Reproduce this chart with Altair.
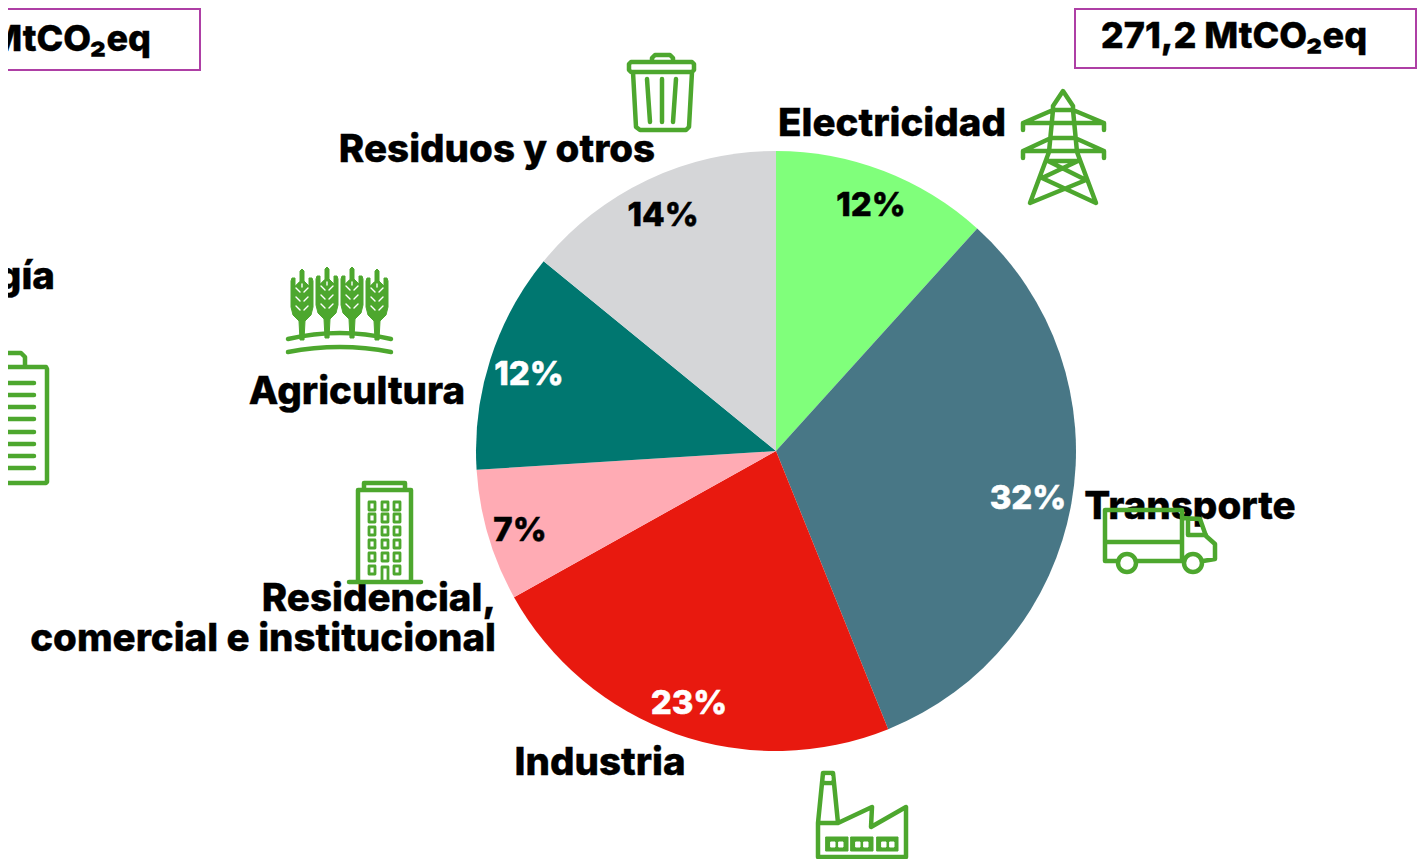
import altair as alt
import pandas as pd

# ---- pie data ----
SECTORS = ["Electricidad", "Transporte", "Industria", "Residencial, comercial e institucional", "Agricultura", "Residuos y otros"]
SHARES = [11.7, 32.2, 23.0, 7.1, 11.9, 14.1]
PIE_COLORS = ["#80FF7B", "#487786", "#E8190F", "#FFABB4", "#007770", "#D5D6D8"]

PCT_TEXT = ["12%", "32%", "23%", "7%", "12%", "14%"]
PCT_COLOR = ["#000000", "#FFFFFF", "#FFFFFF", "#000000", "#FFFFFF", "#000000"]
PCT_X = [871, 1028, 689, 520, 529, 663]
PCT_Y = [216, 509, 714, 541, 385, 226]

LABEL_TEXT = ["Residuos y otros", "Electricidad", "Agricultura", "Residencial,", "comercial e institucional", "Industria", "Transporte", "gía"]
LABEL_X = [497, 892, 357, 496, 496, 600, 1190, 55]
LABEL_Y = [162, 136, 404, 611, 651, 775, 519, 289]
LABEL_ALIGN = ["center", "center", "center", "right", "right", "center", "center", "right"]

BOX_TEXT = ["271,2 MtCO₂eq", "MtCO₂eq"]
BOX_TEXT_X = [1234, 151]
BOX_TEXT_Y = [48, 51]
BOX_TEXT_ALIGN = ["center", "right"]
BOX_L = [1075, -5]
BOX_R = [1416, 200]
BOX_T = [9, 9]
BOX_B = [68, 70]

GREEN = "#4DA72E"
PURPLE = "#AE3FA5"
OFF = 8  # page margin


def poly(pts, close=False):
    s = "M" + " L".join(f"{x},{y}" for x, y in pts)
    return s + (" Z" if close else "")


def rect(x0, y0, x1, y1):
    return poly([(x0, y0), (x1, y0), (x1, y1), (x0, y1)], True)


def circle(cx, cy, r):
    return f"M{cx - r},{cy} A{r},{r} 0 1 1 {cx + r},{cy} A{r},{r} 0 1 1 {cx - r},{cy} Z"


def shift(path, cx, cy):
    """Rewrite an icon path given in picture pixels so it is local to (cx, cy)."""
    out, tok = [], path.replace("M", "M ").replace("L", "L ").replace("A", "A ").replace("Q", "Q ").split()
    cmd = None
    for t in tok:
        if t in "MLAQZ":
            cmd = t
            out.append(t)
            n = 0
            continue
        if cmd == "A" and "," not in t:
            out.append(t)
            continue
        a, b = t.split(",")
        if cmd == "A" and n == 0:
            out.append(t)
        else:
            out.append(f"{float(a) - cx:.1f},{float(b) - cy:.1f}")
        n += 1
    return " ".join(out)


truck = " ".join([
    poly([(1117, 561), (1105, 561), (1105, 510), (1182, 510), (1182, 561), (1137, 561)]),
    poly([(1105, 542), (1182, 542)]),
    poly([(1182, 518), (1200, 519), (1206, 536), (1215, 544), (1215, 559), (1203, 561)]),
    poly([(1188, 521), (1188, 535), (1206, 535)]),
    circle(1127, 563, 9), circle(1193, 563, 9),
])
tower = " ".join([
    poly([(1053, 110), (1053, 106), (1063, 91), (1073, 106), (1073, 110)]),
    poly([(1053, 110), (1073, 110)]),
    poly([(1023, 130), (1023, 123), (1053, 110), (1049, 152), (1030, 203), (1086, 180), (1048, 161)]),
    poly([(1104, 130), (1104, 123), (1073, 110), (1077, 152), (1096, 203), (1042, 178), (1078, 161)]),
    poly([(1023, 123), (1104, 123)]),
    poly([(1051, 138), (1075, 138)]),
    poly([(1023, 158), (1023, 151), (1051, 138)]),
    poly([(1104, 158), (1104, 151), (1075, 138)]),
    poly([(1023, 151), (1104, 151)]),
    poly([(1048, 161), (1078, 161)]),
])
trash = " ".join([
    poly([(652, 61), (652, 58), (655, 55), (670, 55), (673, 58), (673, 61)]),
    poly([(631, 62), (692, 62), (694, 64), (694, 70), (692, 72), (631, 72), (629, 70), (629, 64)], True),
    poly([(633, 72), (636, 127), (640, 130), (686, 130), (689, 127), (692, 72)]),
    poly([(647, 79), (650, 122)]), poly([(662, 79), (662, 122)]), poly([(676, 79), (673, 122)]),
])
building_frame = " ".join([
    rect(364, 483, 405, 490),
    poly([(358, 582), (358, 490), (411, 490), (411, 582)]),
    poly([(349, 582), (421, 582)]),
])
building_windows = " ".join(
    [rect(x - 3, y - 4, x + 3, y + 4) for x in (372, 385, 397) for y in (506, 518, 531, 544, 557)]
    + [rect(369, 566, 375, 574), rect(394, 566, 400, 574), poly([(382, 582), (382, 567), (388, 567), (388, 582)])]
)
factory_frame = " ".join([
    poly([(818, 857), (818, 823), (823, 773), (833, 773), (838, 823), (872, 807), (871, 827), (906, 807), (906, 857), (818, 857)]),
    poly([(818, 823), (838, 823)]),
    poly([(822, 783), (834, 783)]),
])
factory_fill = " ".join([rect(826, 837, 848, 851), rect(851, 837, 873, 851), rect(877, 837, 898, 851)])
factory_holes = " ".join(
    [rect(x, 842, x + 4, 847) for x in (831, 839, 856, 864, 882, 890)] + [rect(826, 776, 831, 780)]
)
clip = " ".join([
    poly([(-10, 367), (46, 367), (47, 369), (47, 482), (46, 483), (-10, 483)]),
    poly([(2, 366), (2, 357), (5, 353), (21, 353), (25, 357), (25, 366)]),
])
clip_lines = " ".join(poly([(-10, y), (34, y)]) for y in (383, 395, 407, 419, 432, 444, 456, 468))


def ear(cx, top):
    return poly([
        (cx - 2, top + 12), (cx - 2, top + 2), (cx, top), (cx + 2, top + 2), (cx + 2, top + 12),
        (cx + 7, top + 17), (cx + 7, top + 9), (cx + 10, top + 9), (cx + 11, top + 12), (cx + 11, top + 38),
        (cx + 9, top + 46), (cx + 3, top + 52), (cx + 2, top + 71), (cx - 2, top + 71), (cx - 3, top + 52),
        (cx - 9, top + 46), (cx - 11, top + 38), (cx - 11, top + 12), (cx - 10, top + 9), (cx - 7, top + 9), (cx - 7, top + 17),
    ], True)


def ear_marks(cx, top):
    marks = []
    for d in (22, 31, 40):
        marks.append(poly([(cx - 6, top + d - 3), (cx - 2, top + d + 1)]))
        marks.append(poly([(cx + 6, top + d - 3), (cx + 2, top + d + 1)]))
    marks.append(poly([(cx, top + 15), (cx, top + 18)]))
    return " ".join(marks)


EARS = [(302, 269), (327, 267), (352, 267), (377, 269)]
wheat = " ".join(ear(*e) for e in EARS)
wheat_marks = " ".join(ear_marks(*e) for e in EARS)
ground = "M288,339 Q340,327 391,339 M288,352 Q340,342 391,352"

# path, anchor x, anchor y, stroke, stroke width, fill
ICONS = [
    (wheat, 340, 310, "#4DA72E", 1, "#4DA72E"),
    (wheat_marks, 340, 310, "#FFFFFF", 1.4, "transparent"),
    (ground, 340, 310, "#4DA72E", 4.5, "transparent"),
    (truck, 1160, 540, "#4DA72E", 4.5, "transparent"),
    (tower, 1063, 147, "#4DA72E", 4.5, "transparent"),
    (trash, 661, 92, "#4DA72E", 4.5, "transparent"),
    (building_frame, 385, 530, "#4DA72E", 4.5, "transparent"),
    (building_windows, 385, 530, "#4DA72E", 2.8, "transparent"),
    (factory_frame, 860, 815, "#4DA72E", 4.5, "transparent"),
    (factory_fill, 860, 815, "#4DA72E", 1, "#4DA72E"),
    (factory_holes, 860, 815, "#FFFFFF", 1, "#FFFFFF"),
    (clip, 20, 420, "#4DA72E", 4.5, "transparent"),
    (clip_lines, 20, 420, "#4DA72E", 4.5, "transparent"),
]

FONT = "Inter"
LABEL_SIZE = 38.5
BOX_SIZE = 36
PCT_SIZE = 33

pie_df = pd.DataFrame({"sector": SECTORS, "share": SHARES, "idx": range(len(SECTORS))})
pie = alt.Chart(pie_df).mark_arc(outerRadius=300).encode(
    theta=alt.Theta("share:Q", stack=True),
    order=alt.Order("idx:Q"),
    color=alt.Color("sector:N", scale=alt.Scale(domain=SECTORS, range=PIE_COLORS), legend=None),
    x=alt.value(776 - OFF),
    y=alt.value(451 - OFF),
)

X = lambda f="x": alt.X(f"{f}:Q", scale=None, axis=None)
Y = lambda f="y": alt.Y(f"{f}:Q", scale=None, axis=None)

pct_df = pd.DataFrame({"t": PCT_TEXT, "x": [v - OFF for v in PCT_X], "y": [v - OFF for v in PCT_Y], "c": PCT_COLOR})
pct = alt.Chart(pct_df).mark_text(font=FONT, fontSize=PCT_SIZE, fontWeight=800, baseline="alphabetic", align="center", strokeWidth=0.5).encode(
    x=X(), y=Y(), text="t:N", color=alt.Color("c:N", scale=None), stroke=alt.Stroke("c:N", scale=None))

labels = []
for al in ("center", "right"):
    d = pd.DataFrame({"t": LABEL_TEXT, "x": [v - OFF for v in LABEL_X], "y": [v - OFF for v in LABEL_Y], "a": LABEL_ALIGN})
    labels.append(alt.Chart(d[d.a == al]).mark_text(font=FONT, fontSize=LABEL_SIZE, fontWeight=800, baseline="alphabetic", align=al, color="#000000", stroke="#000000", strokeWidth=0.4).encode(
        x=X(), y=Y(), text="t:N"))

box_df = pd.DataFrame({"x": [v - OFF for v in BOX_L], "x2": [v - OFF for v in BOX_R], "y": [v - OFF for v in BOX_T], "y2": [v - OFF for v in BOX_B]})
boxes = alt.Chart(box_df).mark_rect(fill="#FFFFFF", stroke=PURPLE, strokeWidth=2).encode(
    x=X(), x2="x2:Q", y=Y(), y2="y2:Q")

box_labels = []
for i in range(2):
    d = pd.DataFrame({"t": [BOX_TEXT[i]], "x": [BOX_TEXT_X[i] - OFF], "y": [BOX_TEXT_Y[i] - OFF]})
    box_labels.append(alt.Chart(d).mark_text(font=FONT, fontSize=BOX_SIZE, fontWeight=800, baseline="alphabetic", align=BOX_TEXT_ALIGN[i], color="#000000", stroke="#000000", strokeWidth=0.4).encode(
        x=X(), y=Y(), text="t:N"))

icon_layers = []
for path, cx, cy, st, sw, fl in ICONS:
    d = pd.DataFrame({"x": [cx - OFF], "y": [cy - OFF]})
    icon_layers.append(alt.Chart(d).mark_point(
        shape=shift(path, cx, cy), size=4, filled=True, fill=fl, stroke=st, strokeWidth=sw,
        opacity=1, strokeCap="round", strokeJoin="round", clip=False,
    ).encode(x=X(), y=Y()))

chart = alt.layer(pie, boxes, *labels, *box_labels, pct, *icon_layers).properties(
    width=1411, height=851, padding=0,
    autosize=alt.AutoSizeParams(type="none"),
).configure_view(stroke=None).resolve_scale(color="independent")

chart.save("out.html", embed_options={"renderer": "svg", "actions": False})
